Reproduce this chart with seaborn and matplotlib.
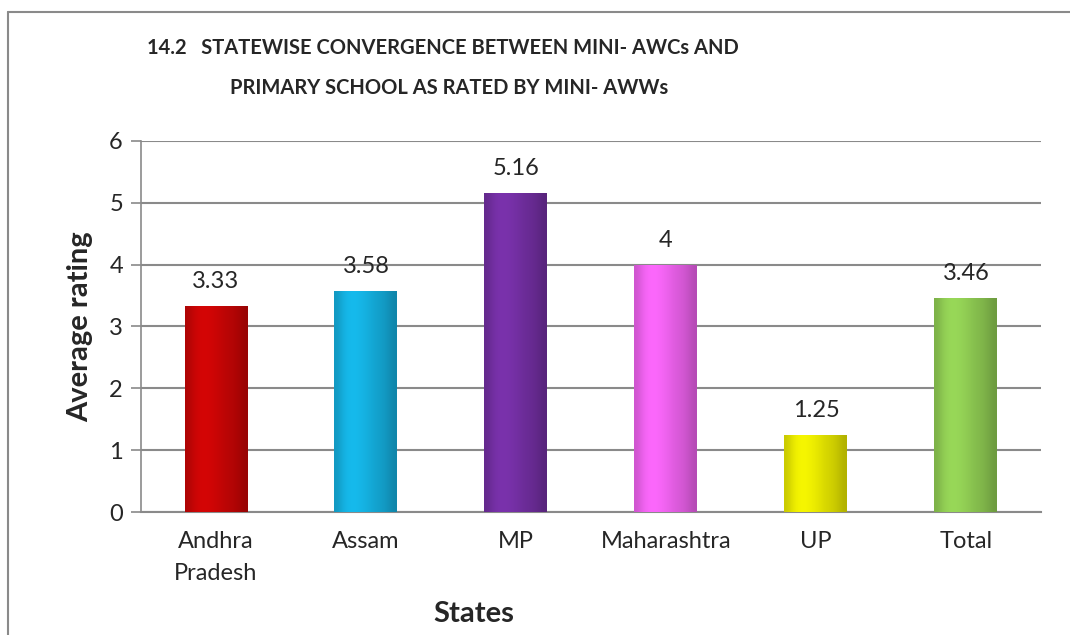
import numpy as np
import seaborn as sns
import pandas as pd
import matplotlib.pyplot as plt
from matplotlib.lines import Line2D
from matplotlib.colors import to_rgb

states = ['Andhra\nPradesh', 'Assam', 'MP', 'Maharashtra', 'UP', 'Total']
ratings = [3.33, 3.58, 5.16, 4, 1.25, 3.46]
labels = ['3.33', '3.58', '5.16', '4', '1.25', '3.46']
colors = ['#D40606', '#16BAEC', '#7A32AC', '#FC68FC', '#F6F600', '#98D858']

df = pd.DataFrame({'state': states, 'rating': ratings})

sns.set_style('white')
plt.rcParams['font.family'] = ['Lato', 'DejaVu Sans']

fig = plt.figure(figsize=(10.7, 6.35), dpi=100)
ax = fig.add_axes([0.1318, 0.1937, 0.841, 0.5843])

sns.barplot(data=df, x='state', y='rating', hue='state', palette=colors,
            legend=False, width=0.42, saturation=1, ax=ax,
            edgecolor='none', zorder=3)

ax.set_ylim(0, 6)
ax.set_xlim(-0.5, 5.5)

# soft bevel shading on each bar
shade = np.array([0.82, 0.95, 1.0, 1.0, 0.97, 0.93, 0.88, 0.85, 0.8, 0.72])
for p, c in zip(ax.patches, colors):
    rgb = np.array(to_rgb(c))
    grad = np.clip(shade[:, None] * rgb[None, :], 0, 1)[None, :, :]
    x0, y0 = p.get_x(), p.get_y()
    im = ax.imshow(grad, extent=[x0, x0 + p.get_width(), y0, y0 + p.get_height()],
                   aspect='auto', interpolation='bicubic', zorder=3.5)
    im.set_clip_path(p)
ax.set_xlim(-0.5, 5.5)
ax.set_ylim(0, 6)

ax.set_yticks(range(7))
ax.grid(axis='y', color='#8a8a8a', linewidth=1.5, zorder=0)
ax.set_axisbelow(True)
for s in ['top', 'right']:
    ax.spines[s].set_visible(False)
ax.spines['left'].set_color('#8a8a8a')
ax.spines['left'].set_linewidth(1.2)
ax.spines['bottom'].set_color('#8a8a8a')
ax.spines['bottom'].set_linewidth(1.5)
ax.tick_params(axis='y', length=7, width=1.2, color='#8a8a8a', labelsize=17, pad=6, left=True)
ax.tick_params(axis='x', length=0, labelsize=17, pad=14)
for t in ax.get_xticklabels():
    t.set_linespacing(1.6)

for i, (v, t) in enumerate(zip(ratings, labels)):
    ax.annotate(t, (i, v), xytext=(0, 10), textcoords='offset points',
                ha='center', va='bottom', fontsize=17)

ax.set_xlabel('States', fontsize=21, fontweight='bold')
ax.xaxis.set_label_coords(0.37, -0.24)
ax.set_ylabel('Average rating', fontsize=21, fontweight='bold')
ax.yaxis.set_label_coords(-0.053, 0.5)

fig.text(0.414, 0.925, '14.2   STATEWISE CONVERGENCE BETWEEN MINI- AWCs AND',
         ha='center', va='center', fontsize=14.5, fontweight='bold')
fig.text(0.42, 0.861, 'PRIMARY SCHOOL AS RATED BY MINI- AWWs',
         ha='center', va='center', fontsize=14.5, fontweight='bold')

# chart frame
fig.add_artist(Line2D([0.0075, 0.0075], [0, 0.981], color='#8a8a8a', linewidth=1.5, transform=fig.transFigure))
fig.add_artist(Line2D([0.0075, 1.0], [0.981, 0.981], color='#8a8a8a', linewidth=1.5, transform=fig.transFigure))

fig.savefig('out.png', dpi=100)
